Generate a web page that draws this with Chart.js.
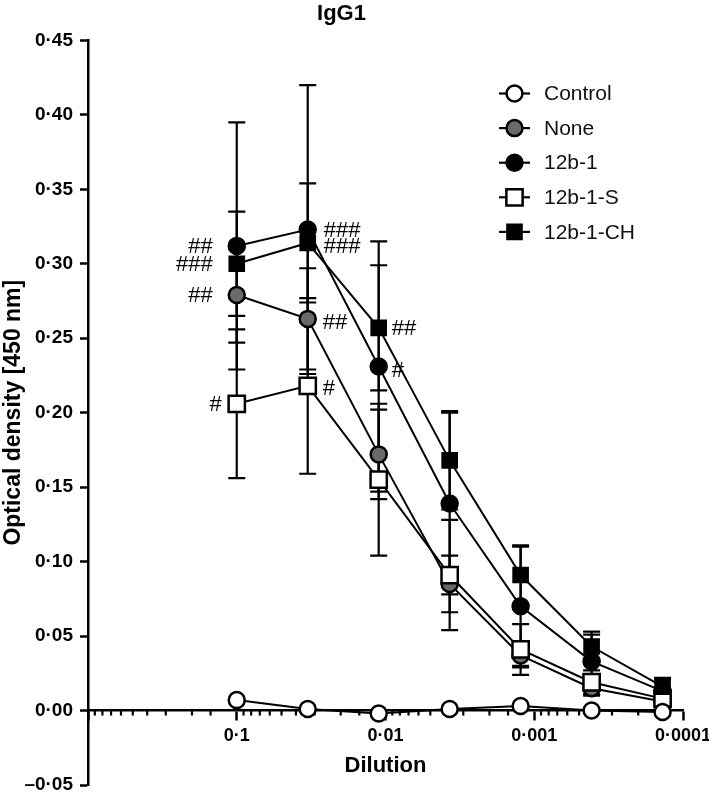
<!DOCTYPE html>
<html>
<head>
<meta charset="utf-8">
<title>IgG1</title>
<script src="https://cdn.jsdelivr.net/npm/chart.js@4.4.1/dist/chart.umd.min.js"></script>
<style>
  html, body { margin: 0; padding: 0; background: #fff; }
  #wrap { width: 709px; height: 794px; }
</style>
</head>
<body>
<div id="wrap"><canvas id="chart" width="709" height="794"></canvas></div>
<script>
// dilution steps (1:3 series starting at 0.1)
const dilutions = [0.1, 0.03333, 0.01111, 0.003704, 0.001235, 0.0004115, 0.0001372];

const seriesNames = ['Control', 'None', '12b-1', '12b-1-S', '12b-1-CH'];

const controlMean = [0.007, 0.001, -0.002, 0.001, 0.003, 0.000, -0.001];
const controlSd = [0, 0, 0, 0, 0, 0, 0];
const noneMean = [0.279, 0.263, 0.172, 0.085, 0.037, 0.015, 0.006];
const noneSd = [0.032, 0.034, 0.030, 0.019, 0.008, 0.005, 0.004];
const ab12b1Mean = [0.312, 0.323, 0.231, 0.139, 0.070, 0.033, 0.013];
const ab12b1Sd = [0.083, 0.097, 0.084, 0.061, 0.040, 0.018, 0.008];
const ab12b1SMean = [0.206, 0.218, 0.155, 0.091, 0.041, 0.019, 0.008];
const ab12b1SSd = [0.050, 0.059, 0.051, 0.037, 0.017, 0.008, 0.005];
const ab12b1CHMean = [0.300, 0.314, 0.257, 0.168, 0.091, 0.043, 0.016];
const ab12b1CHSd = [0.035, 0.040, 0.042, 0.033, 0.020, 0.010, 0.006];

// significance marks: series, dilution index, text
const sigSeries = ['12b-1', '12b-1-CH', 'None', '12b-1-S', '12b-1', '12b-1-CH', 'None', '12b-1-S', '12b-1-CH', '12b-1'];
const sigIndex = [0, 0, 0, 0, 1, 1, 1, 1, 2, 2];
const sigText = ['##', '###', '##', '#', '###', '###', '##', '#', '##', '#'];
// label placement relative to the point (pixels)
const sigDx = [-24, -24, -24, -15, 16, 16, 15, 15, 13, 13];
const sigDy = [0, 0, 0, 0, 0, 3, 3, 2, 0, 3];

const yTickStep = 0.05;

const FONT = "'Liberation Sans', Arial, Helvetica, sans-serif";

const seriesMeans = [controlMean, noneMean, ab12b1Mean, ab12b1SMean, ab12b1CHMean];
const seriesSds = [controlSd, noneSd, ab12b1Sd, ab12b1SSd, ab12b1CHSd];
const seriesStyle = [
  { pointStyle: 'circle', radius: 8, fill: '#ffffff', order: 0 },
  { pointStyle: 'circle', radius: 8, fill: '#6a6a6a', order: 4 },
  { pointStyle: 'circle', radius: 8, fill: '#000000', order: 3 },
  { pointStyle: 'rect', radius: 11.5, fill: '#ffffff', order: 2 },
  { pointStyle: 'rect', radius: 10, fill: '#000000', order: 1 },
];

const isDecade = (v) => Math.abs(Math.log10(v) - Math.round(Math.log10(v))) < 1e-6;
const fmtNum = (v, d) => {
  const s = Math.abs(v).toFixed(d).replace('.', '\u00b7');
  return v < -1e-9 ? '\u2013' + s : s;
};

const datasets = seriesNames.map((name, k) => ({
  label: name,
  data: dilutions.map((x, i) => ({ x, y: seriesMeans[k][i] })),
  sd: seriesSds[k],
  order: seriesStyle[k].order,
  borderColor: '#000',
  borderWidth: 2,
  pointStyle: seriesStyle[k].pointStyle,
  pointRadius: seriesStyle[k].radius,
  pointBackgroundColor: seriesStyle[k].fill,
  pointBorderColor: '#000',
  pointBorderWidth: 2.5,
  tension: 0,
  fill: false,
}));

const errorBars = {
  id: 'errorBars',
  beforeDatasetsDraw(chart) {
    const { ctx } = chart;
    const xs = chart.scales.x;
    const ys = chart.scales.y;
    ctx.save();
    ctx.strokeStyle = '#000';
    ctx.lineWidth = 2.2;
    chart.data.datasets.forEach((ds) => {
      ds.data.forEach((pt, i) => {
        const sd = ds.sd[i];
        if (!sd) return;
        const px = xs.getPixelForValue(pt.x);
        const top = ys.getPixelForValue(pt.y + sd);
        const bot = ys.getPixelForValue(pt.y - sd);
        ctx.beginPath();
        ctx.moveTo(px, top);
        ctx.lineTo(px, bot);
        ctx.moveTo(px - 8.5, top);
        ctx.lineTo(px + 8.5, top);
        ctx.moveTo(px - 8.5, bot);
        ctx.lineTo(px + 8.5, bot);
        ctx.stroke();
      });
    });
    ctx.restore();
  },
};

const minorTicks = {
  id: 'minorTicks',
  beforeDatasetsDraw(chart) {
    const { ctx } = chart;
    const xs = chart.scales.x;
    const y0 = chart.scales.y.getPixelForValue(0);
    ctx.save();
    ctx.strokeStyle = '#000';
    ctx.lineWidth = 2.2;
    xs.ticks.forEach((t) => {
      if (isDecade(t.value)) return;
      const px = xs.getPixelForValue(t.value);
      ctx.beginPath();
      ctx.moveTo(px, y0);
      ctx.lineTo(px, y0 + 5);
      ctx.stroke();
    });
    ctx.restore();
  },
};

const sigLabels = {
  id: 'sigLabels',
  afterDatasetsDraw(chart) {
    const { ctx } = chart;
    const xs = chart.scales.x;
    const ys = chart.scales.y;
    ctx.save();
    ctx.fillStyle = '#000';
    ctx.font = `22px ${FONT}`;
    ctx.textBaseline = 'middle';
    sigText.forEach((txt, j) => {
      const k = seriesNames.indexOf(sigSeries[j]);
      const i = sigIndex[j];
      const px = xs.getPixelForValue(dilutions[i]);
      const py = ys.getPixelForValue(seriesMeans[k][i]);
      ctx.textAlign = sigDx[j] < 0 ? 'right' : 'left';
      ctx.fillText(txt, px + sigDx[j], py + sigDy[j] + 1);
    });
    ctx.restore();
  },
};

const sideLegend = {
  id: 'sideLegend',
  afterDraw(chart) {
    const { ctx } = chart;
    const x0 = 514.5;
    const yStart = 93.5;
    const rowH = 34.6;
    ctx.save();
    chart.data.datasets.forEach((ds, k) => {
      const y = yStart + k * rowH;
      ctx.strokeStyle = '#000';
      ctx.lineWidth = 2.2;
      ctx.beginPath();
      ctx.moveTo(x0 - 15.5, y);
      ctx.lineTo(x0 + 15.5, y);
      ctx.stroke();
      ctx.fillStyle = ds.pointBackgroundColor;
      ctx.lineWidth = ds.pointBorderWidth;
      Chart.helpers.drawPoint(ctx, {
        pointStyle: ds.pointStyle, radius: ds.pointRadius, rotation: 0, borderWidth: ds.pointBorderWidth,
      }, x0, y);
      ctx.fillStyle = '#111';
      ctx.font = `21px ${FONT}`;
      ctx.textAlign = 'left';
      ctx.textBaseline = 'middle';
      ctx.fillText(ds.label, 544, y + 1);
    });
    ctx.restore();
  },
};

new Chart(document.getElementById('chart'), {
  type: 'line',
  data: { datasets },
  plugins: [errorBars, minorTicks, sigLabels, sideLegend],
  options: {
    responsive: false,
    animation: false,
    events: [],
    layout: { autoPadding: false, padding: { left: 0, right: 26, top: 0, bottom: 9 } },
    plugins: {
      legend: { display: false },
      tooltip: { enabled: false },
      title: {
        display: true,
        text: 'IgG1',
        color: '#000',
        font: { family: FONT, size: 22, weight: 'bold' },
        padding: { top: 1, bottom: 13 },
      },
    },
    scales: {
      x: {
        type: 'logarithmic',
        reverse: true,
        min: 0.0001,
        max: 1,
        position: { y: 0 },
        ticks: {
          autoSkip: false,
          maxRotation: 0,
          color: '#000',
          padding: 6,
          font: { family: FONT, size: 18, weight: 'bold' },
          callback: (v) => (isDecade(v) && v < 0.5 ? fmtNum(v, Math.round(-Math.log10(v))) : ''),
        },
        grid: {
          drawOnChartArea: false,
          drawTicks: true,
          tickLength: 9,
          tickWidth: 2.5,
          tickColor: (c) => (c.tick && isDecade(c.tick.value) ? '#000' : 'rgba(0,0,0,0)'),
        },
        border: { display: true, color: '#000', width: 2.5 },
        title: {
          display: true,
          text: 'Dilution',
          color: '#000',
          font: { family: FONT, size: 22, weight: 'bold' },
          padding: { top: 0, bottom: 0 },
        },
        afterFit: (s) => {
          s.paddingLeft = 0;
          s.paddingRight = 0;
          s.paddingTop = 0;
          s.paddingBottom = 0;
        },
      },
      y: {
        min: -0.05,
        max: 0.45,
        ticks: {
          stepSize: yTickStep,
          color: '#000',
          padding: 7,
          font: { family: FONT, size: 19, weight: 'bold' },
          callback: (v) => fmtNum(v, 2),
        },
        grid: {
          drawOnChartArea: false,
          drawTicks: true,
          tickLength: 8,
          tickWidth: 2.5,
          tickColor: '#000',
        },
        border: { display: true, color: '#000', width: 2.5 },
        title: {
          display: true,
          text: 'Optical density [450 nm]',
          color: '#000',
          font: { family: FONT, size: 23, weight: 'bold' },
          padding: { top: 0, bottom: 0 },
        },
        afterFit: (s) => {
          s.width = 88;
          s.paddingTop = 0;
          s.paddingBottom = 0;
        },
      },
    },
  },
});
</script>
</body>
</html>
